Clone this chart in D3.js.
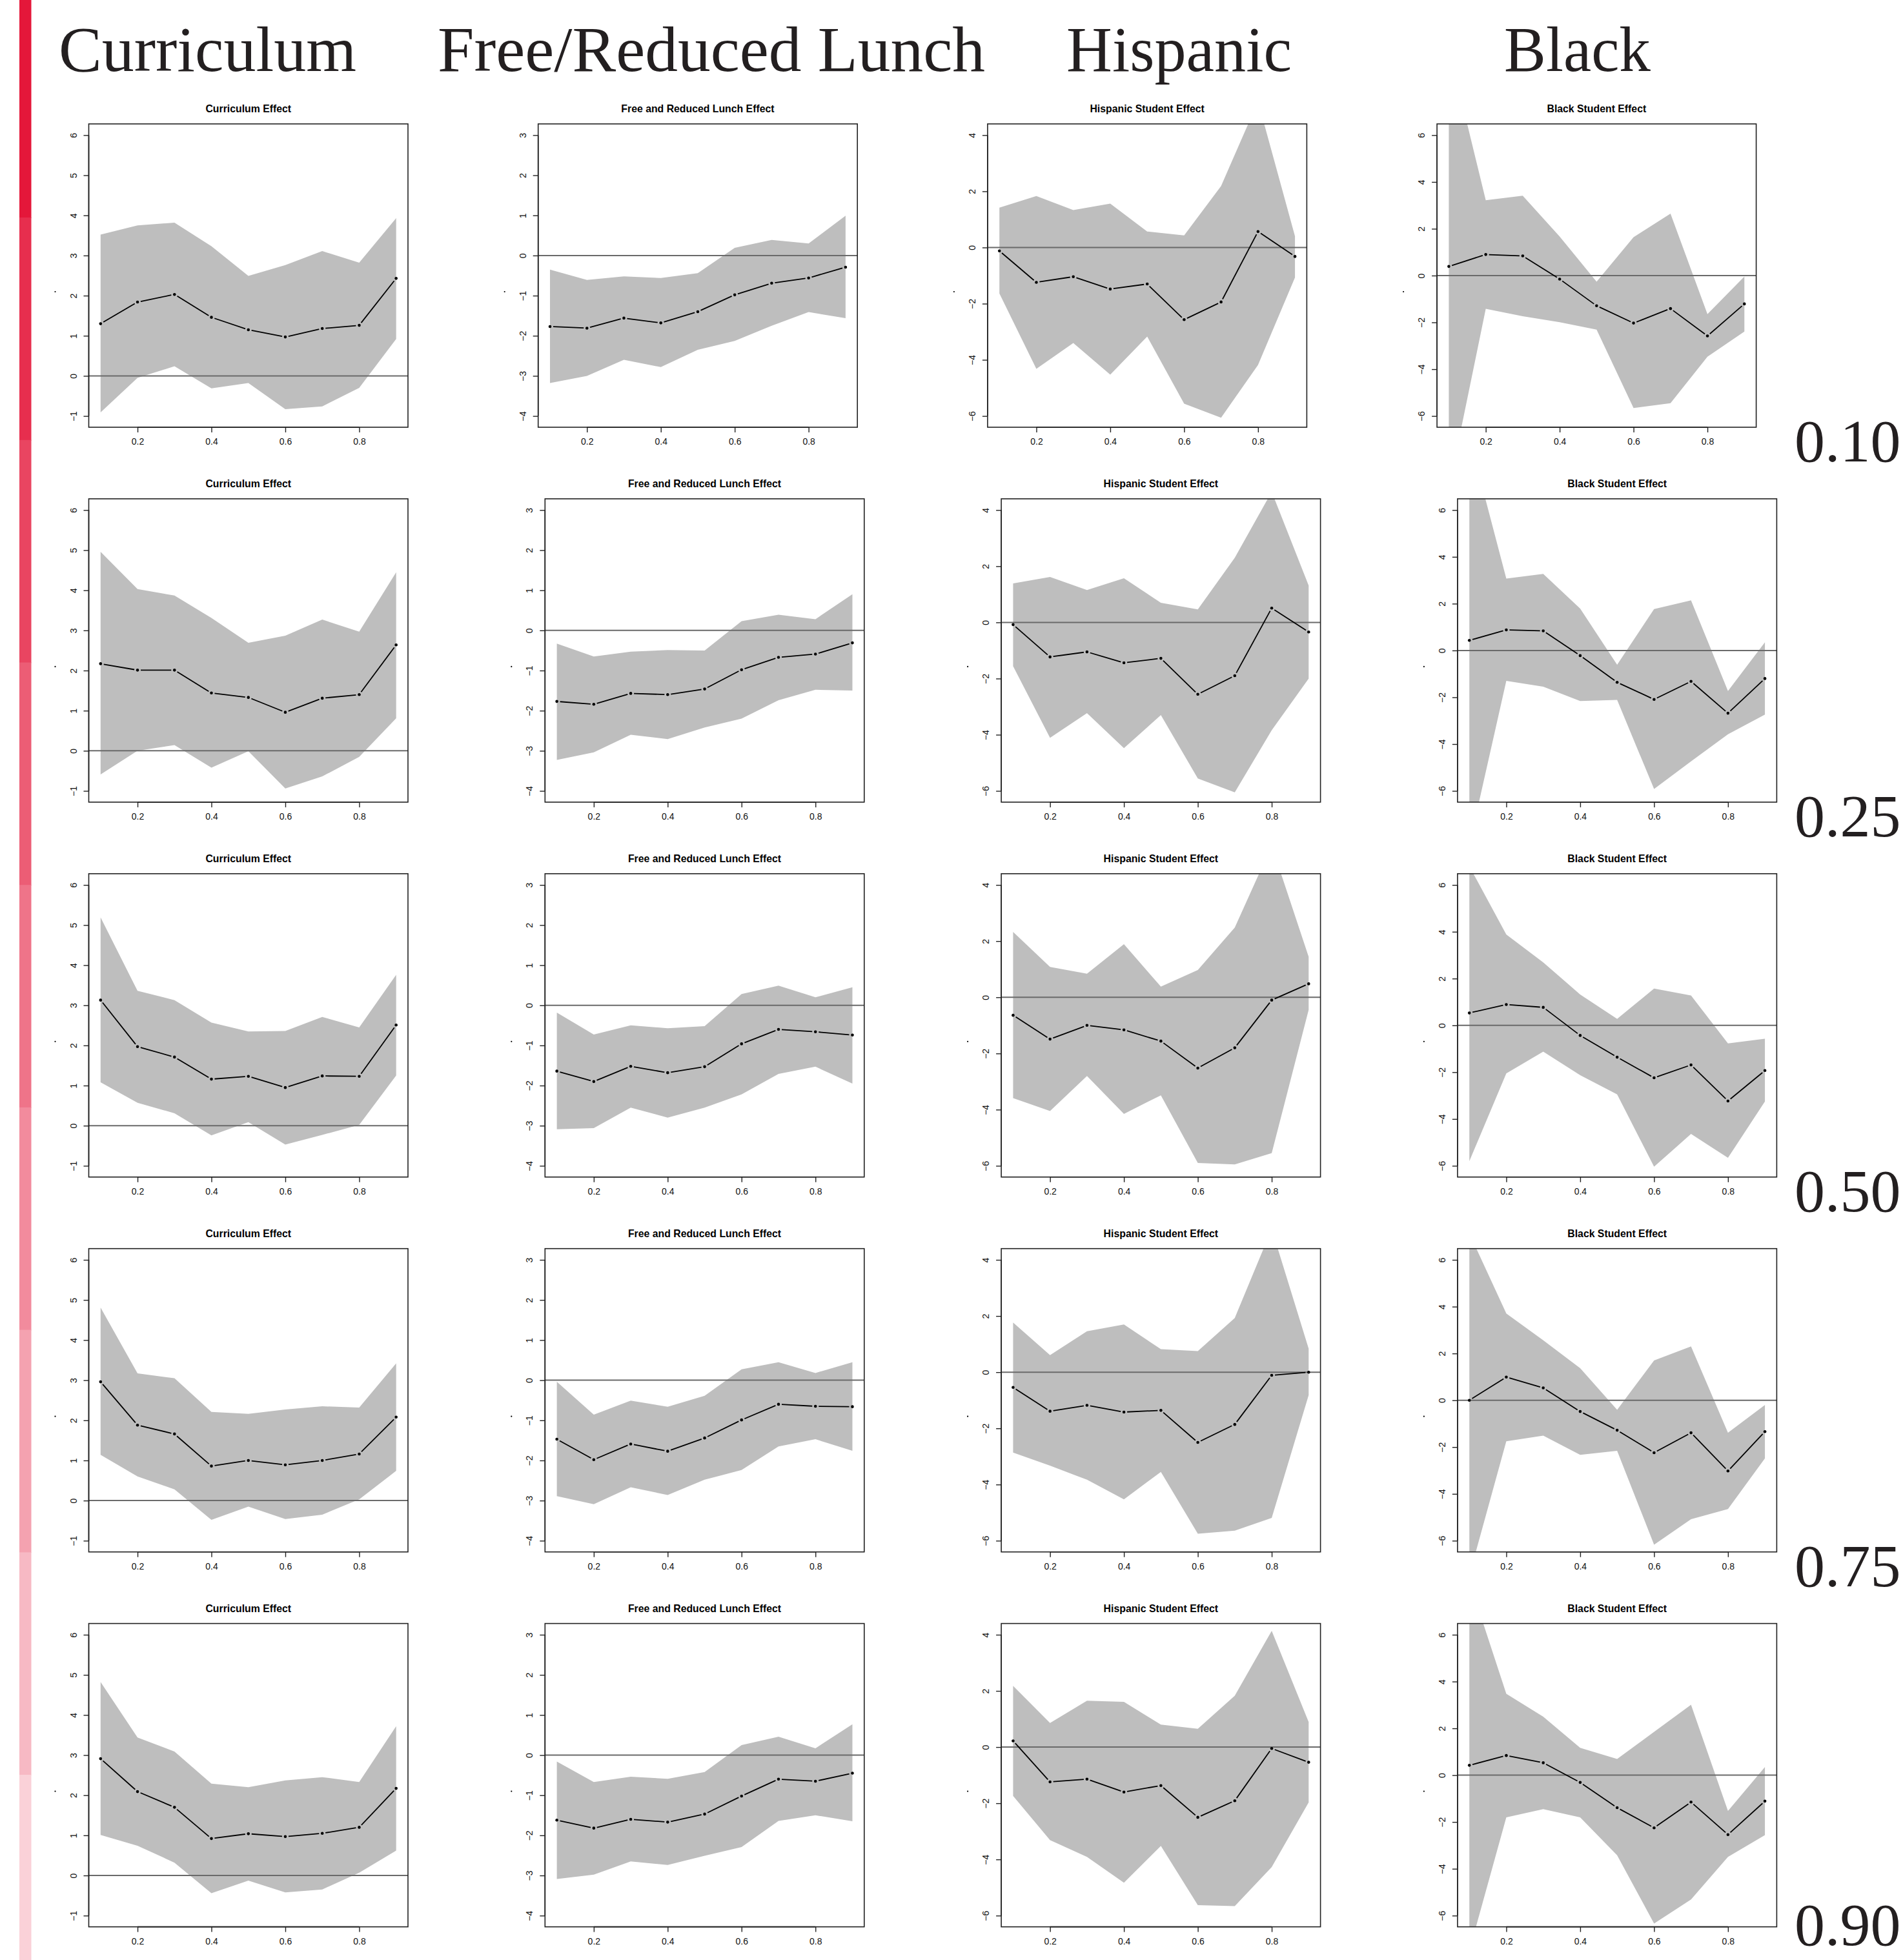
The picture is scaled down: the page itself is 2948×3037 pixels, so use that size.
<!DOCTYPE html>
<html>
<head>
<meta charset="utf-8">
<script src="https://cdn.jsdelivr.net/npm/d3@7"></script>
<style>
  body { margin: 0; background: #fff; }
  svg { display: block; }
</style>
</head>
<body>
<div id="chart"></div>
<script>
// ---- data ----
const quantiles = ["0.10", "0.25", "0.50", "0.75", "0.90"];
const headers = ["Curriculum", "Free/Reduced Lunch", "Hispanic", "Black"];
const titles = ["Curriculum Effect", "Free and Reduced Lunch Effect", "Hispanic Student Effect", "Black Student Effect"];
const xVals = [0.1, 0.2, 0.3, 0.4, 0.5, 0.6, 0.7, 0.8, 0.9];
const xTicks = [0.2, 0.4, 0.6, 0.8];
const yLimits = [[-1, 6], [-4, 3], [-6, 4], [-6, 6]];
const yTicks = [
  [-1, 0, 1, 2, 3, 4, 5, 6],
  [-4, -3, -2, -1, 0, 1, 2, 3],
  [-6, -4, -2, 0, 2, 4],
  [-6, -4, -2, 0, 2, 4, 6]
];
const barOpacity = [1, 0.9, 0.8, 0.7, 0.6, 0.5, 0.4, 0.3, 0.2];

// one row per quantile (0.10 ... 0.90)
const curriculumEst = [
  [1.30, 1.84, 2.03, 1.46, 1.15, 0.97, 1.18, 1.26, 2.43],
  [2.17, 2.01, 2.01, 1.44, 1.33, 0.96, 1.31, 1.40, 2.64],
  [3.13, 1.97, 1.71, 1.16, 1.23, 0.95, 1.24, 1.23, 2.51],
  [2.96, 1.88, 1.66, 0.86, 1.00, 0.89, 1.00, 1.16, 2.08],
  [2.91, 2.09, 1.70, 0.92, 1.04, 0.97, 1.05, 1.20, 2.17]
];
const curriculumLo = [
  [-0.91, -0.05, 0.24, -0.31, -0.18, -0.83, -0.76, -0.30, 0.92],
  [-0.59, 0.00, 0.14, -0.42, -0.01, -0.94, -0.64, -0.15, 0.81],
  [1.08, 0.57, 0.31, -0.24, 0.09, -0.47, -0.23, 0.02, 1.25],
  [1.14, 0.60, 0.28, -0.48, -0.15, -0.46, -0.35, 0.03, 0.74],
  [1.01, 0.74, 0.32, -0.44, -0.13, -0.42, -0.35, 0.07, 0.62]
];
const curriculumHi = [
  [3.52, 3.75, 3.82, 3.23, 2.49, 2.76, 3.11, 2.82, 3.93],
  [4.96, 4.03, 3.87, 3.31, 2.69, 2.87, 3.27, 2.97, 4.45],
  [5.19, 3.36, 3.13, 2.57, 2.35, 2.36, 2.71, 2.45, 3.76],
  [4.81, 3.17, 3.05, 2.21, 2.16, 2.27, 2.35, 2.32, 3.42],
  [4.82, 3.44, 3.09, 2.29, 2.20, 2.37, 2.45, 2.33, 3.72]
];

const lunchEst = [
  [-1.77, -1.81, -1.56, -1.68, -1.40, -0.98, -0.69, -0.56, -0.29],
  [-1.77, -1.84, -1.57, -1.60, -1.46, -0.98, -0.67, -0.59, -0.31],
  [-1.64, -1.90, -1.52, -1.68, -1.53, -0.96, -0.60, -0.66, -0.74],
  [-1.47, -1.98, -1.59, -1.77, -1.44, -0.99, -0.60, -0.65, -0.66],
  [-1.62, -1.82, -1.60, -1.67, -1.47, -1.02, -0.60, -0.65, -0.45]
];
const lunchLo = [
  [-3.18, -3.00, -2.60, -2.78, -2.35, -2.13, -1.75, -1.41, -1.56],
  [-3.23, -3.04, -2.60, -2.71, -2.42, -2.20, -1.74, -1.48, -1.50],
  [-3.09, -3.06, -2.55, -2.80, -2.55, -2.22, -1.71, -1.53, -1.95],
  [-2.89, -3.09, -2.67, -2.86, -2.48, -2.24, -1.65, -1.47, -1.76],
  [-3.09, -2.98, -2.65, -2.74, -2.51, -2.29, -1.64, -1.50, -1.65]
];
const lunchHi = [
  [-0.35, -0.61, -0.52, -0.56, -0.44, 0.19, 0.39, 0.30, 0.99],
  [-0.33, -0.65, -0.53, -0.49, -0.50, 0.23, 0.39, 0.28, 0.90],
  [-0.18, -0.73, -0.50, -0.57, -0.52, 0.28, 0.49, 0.20, 0.45],
  [-0.04, -0.86, -0.51, -0.66, -0.39, 0.27, 0.45, 0.18, 0.45],
  [-0.16, -0.67, -0.54, -0.59, -0.42, 0.25, 0.46, 0.17, 0.77]
];

const hispanicEst = [
  [-0.12, -1.24, -1.04, -1.48, -1.30, -2.57, -1.94, 0.57, -0.32],
  [-0.08, -1.23, -1.05, -1.44, -1.28, -2.56, -1.90, 0.51, -0.34],
  [-0.64, -1.49, -1.00, -1.16, -1.56, -2.52, -1.80, -0.10, 0.48],
  [-0.54, -1.39, -1.18, -1.42, -1.36, -2.50, -1.86, -0.11, 0.00],
  [0.22, -1.24, -1.14, -1.60, -1.37, -2.50, -1.91, -0.05, -0.54]
];
const hispanicLo = [
  [-1.64, -4.32, -3.40, -4.53, -3.17, -5.56, -6.06, -4.18, -1.07],
  [-1.56, -4.11, -3.23, -4.48, -3.30, -5.56, -6.05, -3.84, -2.00],
  [-3.59, -4.05, -2.80, -4.15, -3.49, -5.90, -5.95, -5.55, -0.45],
  [-2.86, -3.33, -3.83, -4.53, -3.55, -5.75, -5.64, -5.19, -0.82],
  [-1.74, -3.31, -3.91, -4.83, -3.52, -5.63, -5.66, -4.27, -1.97]
];
const hispanicHi = [
  [1.42, 1.83, 1.33, 1.56, 0.57, 0.43, 2.19, 5.20, 0.40],
  [1.39, 1.62, 1.15, 1.57, 0.70, 0.46, 2.30, 4.65, 1.31],
  [2.33, 1.08, 0.84, 1.89, 0.38, 0.97, 2.48, 5.40, 1.44],
  [1.77, 0.61, 1.46, 1.70, 0.82, 0.75, 1.93, 5.10, 0.84],
  [2.18, 0.86, 1.65, 1.61, 0.80, 0.65, 1.83, 4.14, 0.89]
];

const blackEst = [
  [0.39, 0.90, 0.84, -0.15, -1.29, -2.03, -1.41, -2.58, -1.21],
  [0.43, 0.88, 0.84, -0.22, -1.36, -2.09, -1.32, -2.68, -1.20],
  [0.53, 0.89, 0.77, -0.43, -1.36, -2.24, -1.69, -3.23, -1.93],
  [0.00, 0.99, 0.53, -0.48, -1.28, -2.24, -1.39, -3.02, -1.34],
  [0.42, 0.84, 0.53, -0.31, -1.39, -2.25, -1.15, -2.54, -1.11]
];
const blackLo = [
  [-9.1, -1.42, -1.74, -1.99, -2.31, -5.66, -5.45, -3.47, -2.39],
  [-8.3, -1.30, -1.55, -2.16, -2.11, -5.92, -4.74, -3.58, -2.74],
  [-5.80, -2.05, -1.12, -2.13, -2.95, -6.04, -4.64, -5.66, -3.25],
  [-7.48, -1.75, -1.51, -2.33, -2.16, -6.17, -5.08, -4.65, -2.48],
  [-7.5, -1.80, -1.45, -1.80, -3.42, -6.34, -5.31, -3.49, -2.56]
];
const blackHi = [
  [9.7, 3.22, 3.41, 1.67, -0.26, 1.64, 2.65, -1.65, -0.04],
  [9.09, 3.07, 3.27, 1.79, -0.61, 1.77, 2.14, -1.73, 0.35],
  [6.8, 3.88, 2.69, 1.32, 0.28, 1.57, 1.28, -0.77, -0.57],
  [7.13, 3.71, 2.56, 1.37, -0.41, 1.70, 2.30, -1.39, -0.20],
  [8.29, 3.48, 2.50, 1.17, 0.69, 1.85, 3.01, -1.53, 0.35]
];

const series = [
  { est: curriculumEst, lo: curriculumLo, hi: curriculumHi },
  { est: lunchEst, lo: lunchLo, hi: lunchHi },
  { est: hispanicEst, lo: hispanicLo, hi: hispanicHi },
  { est: blackEst, lo: blackLo, hi: blackHi }
];

// ---- layout ----
const W = 2948, H = 3037;
const boxW = 494.5, boxH = 470;
const serif = "'Liberation Serif', 'DejaVu Serif', serif";
const sans = "'Liberation Sans', Arial, sans-serif";

const panelLeft = (row, col) => 137.5 + col * (row === 0 ? 696.2 : 706.8);
const panelTop = row => 192 + row * 580.9;

const svg = d3.select("#chart").append("svg")
  .attr("width", W)
  .attr("height", H)
  .style("background", "#fff");

// red legend strip on the left
svg.selectAll(".strip")
  .data(barOpacity)
  .enter()
  .append("rect")
  .attr("class", "strip")
  .attr("x", 30)
  .attr("y", (d, i) => -7.6 + i * 344.7)
  .attr("width", 18.5)
  .attr("height", 345.5)
  .attr("fill", d => d3.interpolateRgb("#ffffff", "#e4173a")(d));

// column headers
const headerX = [91, 678, 1652, 2330];
const headerW = [461, 848, 349, 227];
svg.selectAll(".header")
  .data(headers)
  .enter()
  .append("text")
  .attr("class", "header")
  .attr("x", (d, i) => headerX[i])
  .attr("y", 110)
  .attr("textLength", (d, i) => headerW[i])
  .attr("lengthAdjust", "spacingAndGlyphs")
  .style("font-family", serif)
  .style("font-size", "100px")
  .style("fill", "#231f20")
  .text(d => d);

// quantile labels on the right (kept inside the page)
svg.selectAll(".qlabel")
  .data(quantiles)
  .enter()
  .append("text")
  .attr("class", "qlabel")
  .attr("x", 2780)
  .attr("y", (d, i) => Math.min(715 + i * 580.9, 3014))
  .style("font-family", serif)
  .style("font-size", "94px")
  .style("fill", "#231f20")
  .text(d => d);

const x = d3.scaleLinear()
  .domain([0.1 - 0.032, 0.9 + 0.032])
  .range([0, boxW]);

// draw every panel
quantiles.forEach((q, row) => {
  series.forEach((s, col) => {
    const left = panelLeft(row, col), top = panelTop(row);
    const [y0, y1] = yLimits[col];
    const pad = (y1 - y0) * 0.04;
    const y = d3.scaleLinear().domain([y0 - pad, y1 + pad]).range([boxH, 0]);

    const g = svg.append("g").attr("transform", `translate(${left},${top})`);
    const clipId = `clip-${row}-${col}`;
    g.append("clipPath").attr("id", clipId)
      .append("rect").attr("width", boxW).attr("height", boxH);

    const est = s.est[row], lo = s.lo[row], hi = s.hi[row];
    const pts = xVals.map((v, i) => ({ x: v, est: est[i], lo: lo[i], hi: hi[i] }));

    // confidence band
    g.append("path")
      .datum(pts)
      .attr("clip-path", `url(#${clipId})`)
      .attr("fill", "#bebebe")
      .attr("d", d3.area().x(d => x(d.x)).y0(d => y(d.lo)).y1(d => y(d.hi)));

    // zero line
    g.append("line")
      .attr("x1", 0).attr("x2", boxW)
      .attr("y1", y(0)).attr("y2", y(0))
      .attr("stroke", "#6a6a6a")
      .attr("stroke-width", 2);

    // estimate line, R type "b": segments leave a gap round each point
    const gap = 5;
    const segs = d3.pairs(pts).map(([a, b]) => {
      const ax = x(a.x), ay = y(a.est), bx = x(b.x), by = y(b.est);
      const len = Math.hypot(bx - ax, by - ay);
      const ux = (bx - ax) / len, uy = (by - ay) / len;
      return [ax + ux * gap, ay + uy * gap, bx - ux * gap, by - uy * gap];
    });
    g.selectAll(".seg")
      .data(segs)
      .enter()
      .append("line")
      .attr("x1", d => d[0]).attr("y1", d => d[1])
      .attr("x2", d => d[2]).attr("y2", d => d[3])
      .attr("stroke", "#000")
      .attr("stroke-width", 1.8);

    g.selectAll(".pt")
      .data(pts)
      .enter()
      .append("circle")
      .attr("cx", d => x(d.x))
      .attr("cy", d => y(d.est))
      .attr("r", 2.3)
      .attr("fill", "#000");

    // box
    g.append("rect")
      .attr("width", boxW).attr("height", boxH)
      .attr("fill", "none")
      .attr("stroke", "#222")
      .attr("stroke-width", 1.6);

    // x axis
    const xAxis = g.append("g")
      .attr("transform", `translate(0,${boxH})`)
      .call(d3.axisBottom(x).tickValues(xTicks).tickSize(8).tickPadding(9).tickFormat(d3.format(".1f")));
    xAxis.select(".domain").attr("d", `M${x(0.2)},0H${x(0.8)}`).attr("stroke", "#222").attr("stroke-width", 1.6);
    xAxis.selectAll(".tick line").attr("stroke", "#222").attr("stroke-width", 1.4);
    xAxis.selectAll(".tick text")
      .style("font-family", sans)
      .style("font-size", "14px")
      .style("fill", "#111");

    // y axis with labels turned as in R
    const yAxis = g.append("g")
      .call(d3.axisLeft(y).tickValues(yTicks[col]).tickSize(8).tickFormat(d3.format("d")));
    yAxis.select(".domain")
      .attr("d", `M0,${y(yTicks[col][0])}V${y(yTicks[col][yTicks[col].length - 1])}`)
      .attr("stroke", "#222").attr("stroke-width", 1.6);
    yAxis.selectAll(".tick line").attr("stroke", "#222").attr("stroke-width", 1.4);
    yAxis.selectAll(".tick text")
      .attr("x", null).attr("dy", null)
      .attr("transform", "translate(-19,0) rotate(-90)")
      .attr("text-anchor", "middle")
      .style("font-family", sans)
      .style("font-size", "14px")
      .style("fill", "#111");

    // the tiny "." y label
    g.append("circle")
      .attr("cx", -52).attr("cy", boxH / 2 + 25)
      .attr("r", 1.1)
      .attr("fill", "#000");

    // panel title
    const t = g.append("text")
      .attr("x", boxW / 2)
      .attr("y", -18)
      .attr("text-anchor", "middle")
      .style("font-family", sans)
      .style("font-weight", "bold")
      .style("font-size", "17px")
      .style("fill", "#000")
      .text(titles[col]);
    const tw = t.node().getComputedTextLength();
    t.attr("textLength", tw * 0.93).attr("lengthAdjust", "spacingAndGlyphs");
  });
});
</script>
</body>
</html>
